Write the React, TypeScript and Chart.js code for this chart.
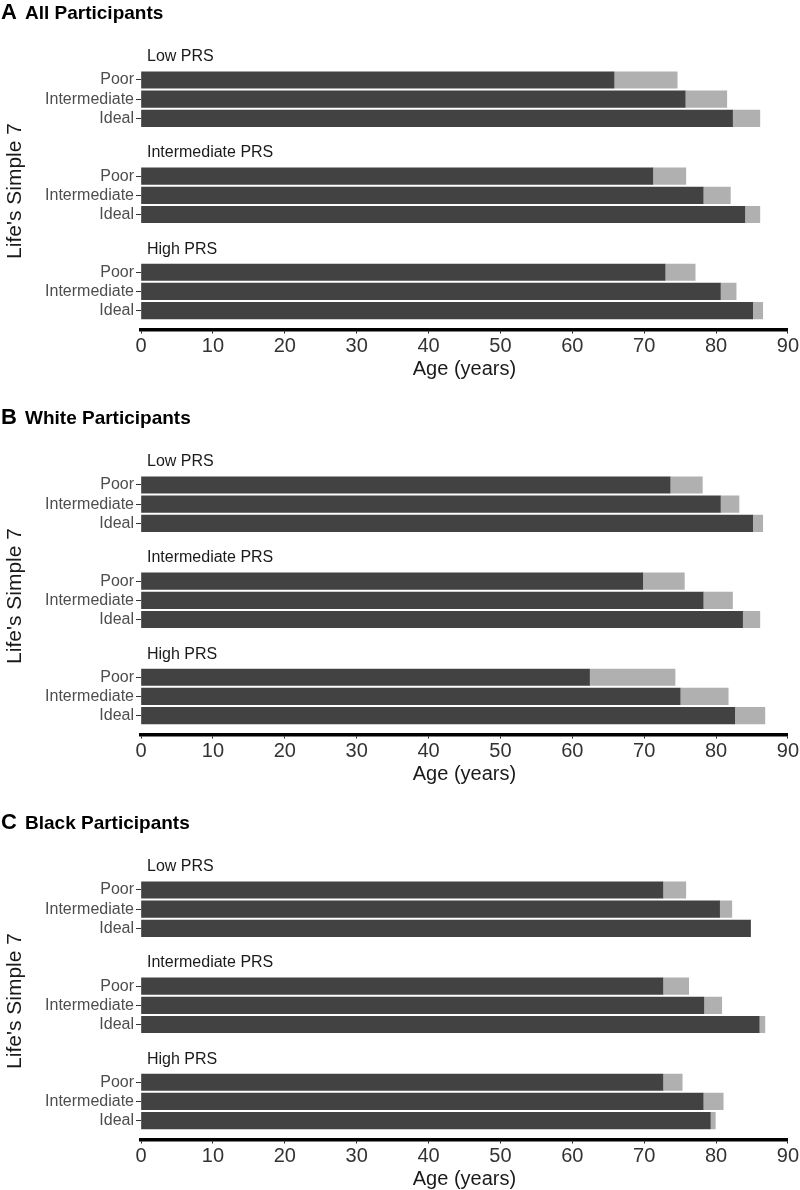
import React, { useEffect, useRef } from "react";
import { Chart, registerables } from "chart.js";

Chart.register(...registerables);

const FONT = "'Liberation Sans', Arial, Helvetica, sans-serif";

// Category structure
const PRS_GROUPS = ["Low PRS", "Intermediate PRS", "High PRS"];
const LS7_LEVELS = ["Poor", "Intermediate", "Ideal"];

// Age axis
const AGE_MIN = 0;
const AGE_MAX = 90;
const AGE_STEP = 10;

// Panel A: All Participants (order: Low PRS Poor/Int/Ideal, Int PRS ..., High PRS ...)
const ALL_DARK = [65.8, 75.7, 82.3, 71.2, 78.2, 84.0, 72.9, 80.6, 85.1];
const ALL_TOTAL = [74.6, 81.5, 86.1, 75.8, 82.0, 86.1, 77.1, 82.8, 86.5];

// Panel B: White Participants
const WHITE_DARK = [73.6, 80.6, 85.1, 69.8, 78.2, 83.7, 62.4, 75.0, 82.6];
const WHITE_TOTAL = [78.1, 83.2, 86.5, 75.6, 82.3, 86.1, 74.3, 81.7, 86.8];

// Panel C: Black Participants
const BLACK_DARK = [72.6, 80.5, 84.8, 72.6, 78.3, 86.0, 72.6, 78.2, 79.2];
const BLACK_TOTAL = [75.8, 82.2, 84.8, 76.2, 80.8, 86.8, 75.3, 81.0, 79.9];

const PANEL_H = 405;

type PanelProps = {
  letter: string;
  title: string;
  dark: number[];
  total: number[];
  top: number;
};

function Panel({ letter, title, dark, total, top }: PanelProps) {
  const ref = useRef<HTMLCanvasElement | null>(null);

  useEffect(() => {
    if (!ref.current) return;
    const positions: number[] = [];
    const labelFor: Record<string, string> = {};
    PRS_GROUPS.forEach((_, g) => {
      LS7_LEVELS.forEach((lv, i) => {
        const p = g * 5 + i;
        positions.push(p);
        labelFor[String(p)] = lv;
      });
    });

    const textPlugin = {
      id: "panelText",
      afterDraw(chart: any) {
        const ctx = chart.ctx;
        const ys = chart.scales.y;
        const area = chart.chartArea;
        ctx.save();
        // panel title
        ctx.fillStyle = "#000";
        ctx.textBaseline = "alphabetic";
        ctx.textAlign = "left";
        ctx.font = `bold 22px ${FONT}`;
        ctx.fillText(letter, 1, 19);
        ctx.font = `bold 19px ${FONT}`;
        ctx.fillText(title, 25, 19);
        // group headers
        ctx.fillStyle = "#1a1a1a";
        ctx.font = `16px ${FONT}`;
        ctx.textBaseline = "middle";
        PRS_GROUPS.forEach((gname, g) => {
          const y = ys.getPixelForValue(g * 5 - 1.2);
          ctx.fillText(gname, 147, y);
        });
        // x title
        ctx.font = `20px ${FONT}`;
        ctx.textAlign = "center";
        ctx.fillText("Age (years)", (area.left + area.right) / 2, 369);
        // y title
        ctx.font = `21px ${FONT}`;
        ctx.translate(15, 191);
        ctx.rotate(-Math.PI / 2);
        ctx.fillText("Life's Simple 7", 0, 0);
        ctx.restore();
      },
    };

    const chart = new Chart(ref.current, {
      type: "bar",
      data: {
        datasets: [
          {
            label: "Dark",
            data: positions.map((p, k) => ({ x: dark[k], y: p })),
            backgroundColor: "#424242",
            borderWidth: 0,
            grouped: false,
            barThickness: 16.5,
          } as any,
          {
            label: "Light",
            data: positions.map((p, k) => ({ x: [dark[k], total[k]], y: p })),
            backgroundColor: "#b0b0b0",
            borderWidth: 0,
            grouped: false,
            barThickness: 16.5,
          } as any,
        ],
      },
      options: {
        indexAxis: "y",
        responsive: false,
        animation: false,
        devicePixelRatio: 1,
        layout: { padding: { top: 30, right: 12, bottom: 0, left: 0 } },
        plugins: {
          legend: { display: false },
          tooltip: { enabled: false },
        },
        scales: {
          x: {
            type: "linear",
            min: AGE_MIN,
            max: AGE_MAX,
            offset: false,
            afterFit: (s: any) => {
              s.height = PANEL_H - 329.5;
            },
            ticks: {
              stepSize: AGE_STEP,
              color: "#333",
              padding: 1,
              font: { family: FONT, size: 20 },
            },
            grid: {
              offset: false,
              drawOnChartArea: false,
              drawTicks: true,
              tickLength: 4,
              color: "#222",
            },
            border: { display: true, color: "#000", width: 3.5 },
          },
          y: {
            type: "linear",
            reverse: true,
            bounds: "data",
            offset: false,
            min: -2.6,
            max: 12.98,
            afterFit: (s: any) => {
              s.width = 141;
            },
            afterBuildTicks: (s: any) => {
              s.ticks = positions.map((v) => ({ value: v }));
            },
            ticks: {
              autoSkip: false,
              color: "#4d4d4d",
              padding: 2,
              font: { family: FONT, size: 16 },
              callback: (value: any) => labelFor[String(value)] ?? "",
            },
            grid: {
              offset: false,
              drawOnChartArea: false,
              drawTicks: true,
              tickLength: 5,
              color: "#333",
            },
            border: { display: false },
          },
        },
      } as any,
      plugins: [textPlugin],
    });
    return () => chart.destroy();
  }, [letter, title, dark, total]);

  return (
    <canvas
      ref={ref}
      width={800}
      height={PANEL_H}
      style={{ position: "absolute", left: 0, top, display: "block", width: 800, height: PANEL_H }}
    />
  );
}

export default function App() {
  return (
    <div
      style={{
        position: "absolute",
        left: 0,
        top: 0,
        width: 800,
        height: 1190,
        overflow: "hidden",
        background: "#fff",
      }}
    >
      <Panel letter="A" title="All Participants" dark={ALL_DARK} total={ALL_TOTAL} top={0} />
      <Panel letter="B" title="White Participants" dark={WHITE_DARK} total={WHITE_TOTAL} top={PANEL_H} />
      <Panel letter="C" title="Black Participants" dark={BLACK_DARK} total={BLACK_TOTAL} top={PANEL_H * 2} />
    </div>
  );
}
